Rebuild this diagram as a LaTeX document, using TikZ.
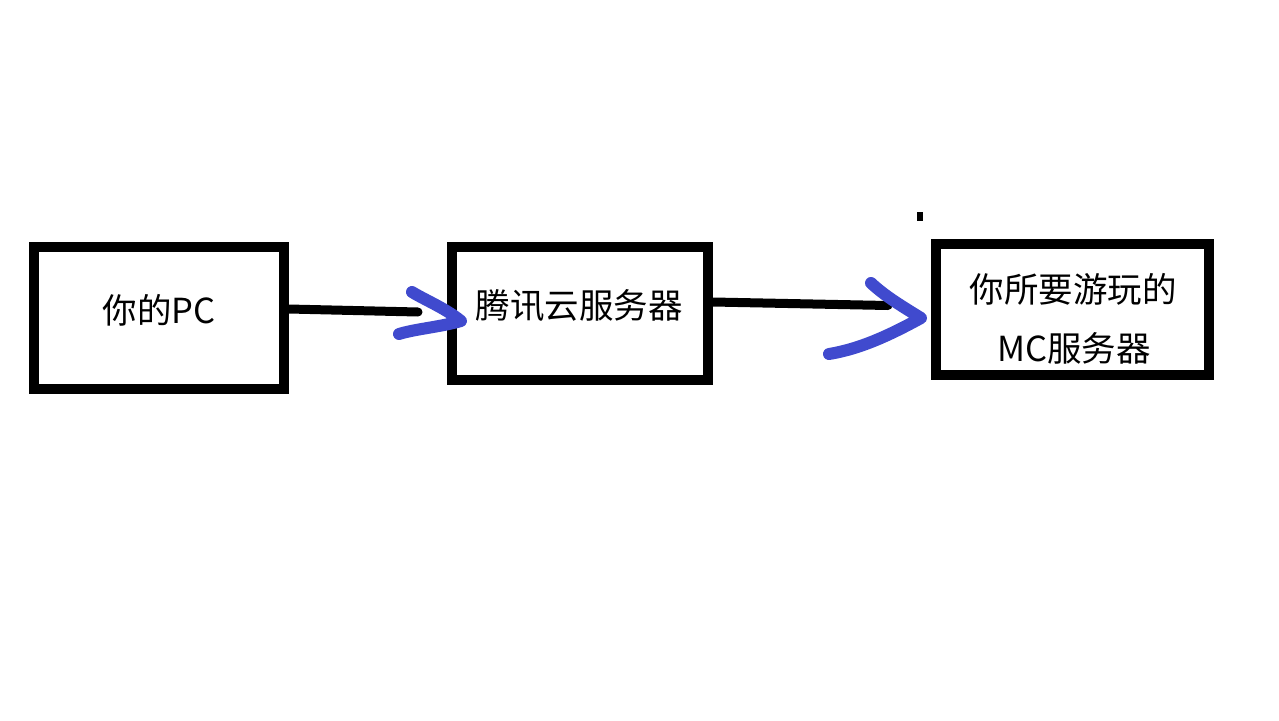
\documentclass[tikz,border=0pt]{standalone}
\usepackage{fontspec}
\setmainfont{Noto Sans CJK SC}
\definecolor{penblue}{RGB}{64,74,206}
\tikzset{
  box/.style={draw=black, line width=10pt, inner sep=0pt, minimum width=#1},
  lbl/.style={font=\fontsize{34.5}{42}\selectfont, inner sep=0pt, align=center},
  blackline/.style={draw=black, line width=9pt, line cap=round},
  pen/.style={draw=penblue, line width=12pt, line cap=round, line join=round}
}
\begin{document}
\begin{tikzpicture}[x=1pt,y=-1pt]
\useasboundingbox (0,0) rectangle (1279,720);
\fill[white] (0,0) rectangle (1279,720);
% boxes
\node[box=249.5pt, minimum height=142pt] (pc) at (158.75,318) {};
\node[box=256pt, minimum height=133pt] (tx) at (580,313.5) {};
\node[box=273pt, minimum height=131pt] (mc) at (1072.5,309.5) {};
% labels
\node[lbl] (pct) at (159,310) {你的PC};
\node[lbl] (txt) at (579,306) {腾讯云服务器};
\node[lbl] (mct1) at (1073,289) {你所要游玩的};
\node[lbl] (mct2) at (1074,348) {MC服务器};
% connector ends
\coordinate (e1) at (418,312);
\coordinate (e2) at (888,305.5);
\draw[blackline] (pc.east |- 0,309) -- (e1);
\draw[blackline] (tx.east |- 0,302) -- (e2);
% hand-drawn arrow heads
\coordinate (h1a) at (412,292);
\coordinate (h1t) at (461,321);
\coordinate (h1b) at (399,334);
\draw[pen] (h1a) .. controls (425,300) and (445,308) .. (h1t) .. controls (440,327) and (415,329) .. (h1b);
\coordinate (h2a) at (871,283);
\coordinate (h2t) at (921,318);
\coordinate (h2b) at (829,354);
\draw[pen] (h2a) .. controls (885,296) and (900,305) .. (h2t) .. controls (890,335) and (860,349) .. (h2b);
% small mark
\fill[black] (917,212) rectangle (923,221);
\end{tikzpicture}
\end{document}
